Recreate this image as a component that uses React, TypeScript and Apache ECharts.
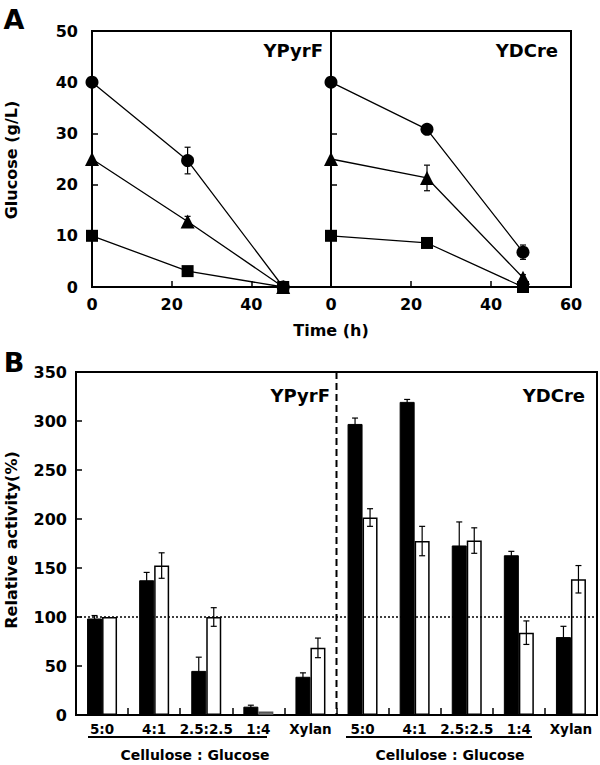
import React, { useEffect, useRef } from 'react';
import * as echarts from 'echarts';

// ---------- Panel A: glucose consumption ----------
const timeH = [0, 24, 48];
const pyrCircle = [40, 24.7, 0];
const pyrCircleErr = [0, 2.6, 0];
const pyrTriangle = [25, 12.8, 0];
const pyrTriangleErr = [0, 1.0, 0];
const pyrSquare = [10, 3.1, 0];
const pyrSquareErr = [0, 0.4, 0];
const dcCircle = [40, 30.8, 6.8];
const dcCircleErr = [0, 0.8, 1.4];
const dcTriangle = [25, 21.3, 1.8];
const dcTriangleErr = [0, 2.5, 0.6];
const dcSquare = [10, 8.6, 0];
const dcSquareErr = [0, 0.5, 0];

// ---------- Panel B: relative activity ----------
const strains = ['YPyrF', 'YDCre'];
const ratioLabels = ['5:0', '4:1', '2.5:2.5', '1:4', 'Xylan'];
const pyrBlack = [98.5, 137.5, 45, 8.5, 39];
const pyrBlackErr = [3, 8, 14, 1.5, 4];
const pyrWhite = [100, 152.5, 100, 3.5, 68.5];
const pyrWhiteErr = [0, 13, 9.5, 0, 10];
const dcBlack = [297, 319.5, 173, 163, 79.5];
const dcBlackErr = [6, 2.5, 24, 4, 11];
const dcWhite = [201.5, 177.5, 178, 84, 138.5];
const dcWhiteErr = [9, 15, 13, 12, 14];

const FONT = 'DejaVu Sans';

const categories = strains.flatMap((s) => ratioLabels.map((r) => `${s}|${r}`));
const blackValues = [...pyrBlack, ...dcBlack];
const blackErr = [...pyrBlackErr, ...dcBlackErr];
const whiteValues = [...pyrWhite, ...dcWhite];
const whiteErr = [...pyrWhiteErr, ...dcWhiteErr];

function pairs(ys: number[]) {
  return timeH.map((t, i) => [t, ys[i]]);
}
function triples(ys: number[], es: number[]) {
  return timeH.map((t, i) => [t, ys[i], es[i]]);
}

const capLine = (x1: number, y1: number, x2: number, y2: number, w = 1.2) => ({
  type: 'line',
  shape: { x1, y1, x2, y2 },
  style: { stroke: '#000', lineWidth: w },
});

function errRenderA(params: any, api: any) {
  const x = api.value(0);
  const y = api.value(1);
  const e = api.value(2);
  if (!e) return { type: 'group', children: [] };
  const t = api.coord([x, y + e]);
  const b = api.coord([x, y - e]);
  const w = 3;
  return {
    type: 'group',
    children: [
      capLine(t[0], t[1], b[0], b[1]),
      capLine(t[0] - w, t[1], t[0] + w, t[1]),
      capLine(b[0] - w, b[1], b[0] + w, b[1]),
    ],
  };
}

function errRenderB(offset: number) {
  return (params: any, api: any) => {
    const idx = api.value(0);
    const y = api.value(1);
    const e = api.value(2);
    if (!e) return { type: 'group', children: [] };
    const t = api.coord([idx, y + e]);
    const b = api.coord([idx, y - e]);
    const x = t[0] + offset;
    const w = 3;
    return {
      type: 'group',
      children: [
        capLine(x, t[1], x, b[1]),
        capLine(x - w, t[1], x + w, t[1]),
        capLine(x - w, b[1], x + w, b[1]),
      ],
    };
  };
}

const axisLabelStyle = { color: '#000', fontFamily: FONT, fontWeight: 'bold' as const, fontSize: 16 };

function lineSeries(name: string, ys: number[], symbol: string, size: number, xi: number) {
  return {
    name,
    type: 'line',
    xAxisIndex: xi,
    yAxisIndex: xi,
    data: pairs(ys),
    symbol,
    symbolSize: size,
    showSymbol: true,
    lineStyle: { color: '#000', width: 1.3 },
    itemStyle: { color: '#000' },
    z: 4,
  };
}

function errSeriesA(ys: number[], es: number[], xi: number) {
  return {
    type: 'custom',
    xAxisIndex: xi,
    yAxisIndex: xi,
    data: triples(ys, es),
    renderItem: errRenderA,
    z: 3,
  };
}

export default function App() {
  const ref = useRef<HTMLDivElement>(null);

  useEffect(() => {
    document.body.style.margin = '0';
    if (!ref.current) return;
    const chart = echarts.init(ref.current, undefined, { renderer: 'svg' });

    const textG = (text: string, x: number, y: number, size: number, align = 'center', extra: any = {}) => ({
      type: 'text',
      x,
      y,
      ...extra,
      style: {
        text,
        fill: '#000',
        font: `bold ${size}px "${FONT}"`,
        textAlign: align,
        textVerticalAlign: 'middle',
      },
    });

    const baseGraphics: any[] = [
      textG('A', 14, 19, 27, 'center', { style: undefined }),
      textG('B', 14, 362, 27),
      textG('YPyrF', 323, 50, 18, 'right'),
      textG('YDCre', 558, 50, 18, 'right'),
      textG('YPyrF', 330, 395, 18, 'right'),
      textG('YDCre', 585, 395, 18, 'right'),
      textG('Time (h)', 331, 330, 16),
      textG('Glucose (g/L)', 11, 160, 16, 'center', { rotation: Math.PI / 2 }),
      textG('Relative activity(%)', 11, 540, 16, 'center', { rotation: Math.PI / 2 }),
      textG('Cellulose : Glucose', 195, 755, 14),
      textG('Cellulose : Glucose', 450, 755, 14),
      { type: 'line', shape: { x1: 88, y1: 737, x2: 267, y2: 737 }, style: { stroke: '#000', lineWidth: 2 } },
      { type: 'line', shape: { x1: 346, y1: 737, x2: 532, y2: 737 }, style: { stroke: '#000', lineWidth: 2 } },
    ];
    baseGraphics[0] = textG('A', 14, 19, 27);

    const axisLine = { show: true, lineStyle: { color: '#000', width: 2 } };
    const tickIn = { show: true, inside: true, length: 6, lineStyle: { color: '#000', width: 1.5 } };

    const option: any = {
      animation: false,
      backgroundColor: '#fff',
      grid: [
        { left: 92, top: 31, width: 239, height: 256, show: true, borderColor: '#000', borderWidth: 2, backgroundColor: 'transparent' },
        { left: 331, top: 31, width: 240, height: 256, show: true, borderColor: '#000', borderWidth: 2, backgroundColor: 'transparent' },
        { left: 76, top: 372, width: 521, height: 343, show: true, borderColor: '#000', borderWidth: 2, backgroundColor: 'transparent' },
      ],
      xAxis: [
        {
          type: 'value', gridIndex: 0, min: 0, max: 60, interval: 20,
          axisLine, axisTick: tickIn, splitLine: { show: false },
          axisLabel: { ...axisLabelStyle, margin: 9, formatter: (v: number) => (v === 60 ? '' : String(v)) },
        },
        {
          type: 'value', gridIndex: 1, min: 0, max: 60, interval: 20,
          axisLine, axisTick: tickIn, splitLine: { show: false },
          axisLabel: { ...axisLabelStyle, margin: 9 },
        },
        {
          type: 'category', gridIndex: 2, data: categories,
          axisLine, splitLine: { show: false },
          axisTick: { show: true, inside: true, length: 7, alignWithLabel: false, lineStyle: { color: '#000', width: 1.5 } },
          axisLabel: {
            color: '#000', fontFamily: FONT, fontWeight: 'bold', fontSize: 13.5, margin: 7, interval: 0,
            formatter: (v: string) => v.split('|')[1],
          },
        },
      ],
      yAxis: [
        {
          type: 'value', gridIndex: 0, min: 0, max: 50, interval: 10,
          axisLine, axisTick: tickIn, splitLine: { show: false },
          axisLabel: { ...axisLabelStyle, margin: 14 },
        },
        {
          type: 'value', gridIndex: 1, min: 0, max: 50, interval: 10,
          axisLine, axisTick: tickIn, splitLine: { show: false },
          axisLabel: { show: false },
        },
        {
          type: 'value', gridIndex: 2, min: 0, max: 350, interval: 50,
          axisLine, axisTick: tickIn, splitLine: { show: false },
          axisLabel: { ...axisLabelStyle, margin: 9 },
        },
      ],
      series: [
        errSeriesA(pyrCircle, pyrCircleErr, 0),
        errSeriesA(pyrTriangle, pyrTriangleErr, 0),
        errSeriesA(pyrSquare, pyrSquareErr, 0),
        errSeriesA(dcCircle, dcCircleErr, 1),
        errSeriesA(dcTriangle, dcTriangleErr, 1),
        errSeriesA(dcSquare, dcSquareErr, 1),
        lineSeries('YPyrF circle', pyrCircle, 'circle', 13, 0),
        lineSeries('YPyrF triangle', pyrTriangle, 'triangle', 14, 0),
        lineSeries('YPyrF square', pyrSquare, 'rect', 12, 0),
        lineSeries('YDCre circle', dcCircle, 'circle', 13, 1),
        lineSeries('YDCre triangle', dcTriangle, 'triangle', 14, 1),
        lineSeries('YDCre square', dcSquare, 'rect', 12, 1),
        {
          name: 'black',
          type: 'bar',
          xAxisIndex: 2,
          yAxisIndex: 2,
          data: blackValues,
          barWidth: 15,
          barGap: '0%',
          itemStyle: { color: '#000', borderColor: '#000', borderWidth: 1 },
          markLine: {
            silent: true,
            symbol: 'none',
            label: { show: false },
            lineStyle: { color: '#000', type: [2, 2], width: 1.5 },
            data: [{ yAxis: 100 }],
          },
          z: 2,
        },
        {
          name: 'white',
          type: 'bar',
          xAxisIndex: 2,
          yAxisIndex: 2,
          data: whiteValues.map((v, i) =>
            strains[Math.floor(i / ratioLabels.length)] === 'YPyrF' && ratioLabels[i % ratioLabels.length] === '1:4'
              ? { value: v, itemStyle: { color: '#8a8a8a', borderColor: '#555' } }
              : v
          ),
          barWidth: 15,
          barGap: '0%',
          itemStyle: { color: '#fff', borderColor: '#000', borderWidth: 1.5 },
          z: 2,
        },
        {
          type: 'custom',
          xAxisIndex: 2,
          yAxisIndex: 2,
          data: blackValues.map((v, i) => [i, v, blackErr[i]]),
          renderItem: errRenderB(-7.5),
          z: 3,
        },
        {
          type: 'custom',
          xAxisIndex: 2,
          yAxisIndex: 2,
          data: whiteValues.map((v, i) => [i, v, whiteErr[i]]),
          renderItem: errRenderB(7.5),
          z: 3,
        },
      ],
      graphic: baseGraphics,
    };

    chart.setOption(option);

    // dashed separator between the two strains in panel B
    const xa = chart.convertToPixel({ xAxisIndex: 2 } as any, categories[4]) as number;
    const xb = chart.convertToPixel({ xAxisIndex: 2 } as any, categories[5]) as number;
    const yTop = chart.convertToPixel({ yAxisIndex: 2 } as any, 350) as number;
    const yBot = chart.convertToPixel({ yAxisIndex: 2 } as any, 0) as number;
    const xm = (xa + xb) / 2;
    chart.setOption({
      graphic: [
        ...baseGraphics,
        {
          type: 'line',
          shape: { x1: xm, y1: yTop, x2: xm, y2: yBot },
          style: { stroke: '#000', lineWidth: 2, lineDash: [7, 4] },
          z: 10,
        },
      ],
    });

    return () => chart.dispose();
  }, []);

  return <div ref={ref} style={{ width: 600, height: 765 }} />;
}
